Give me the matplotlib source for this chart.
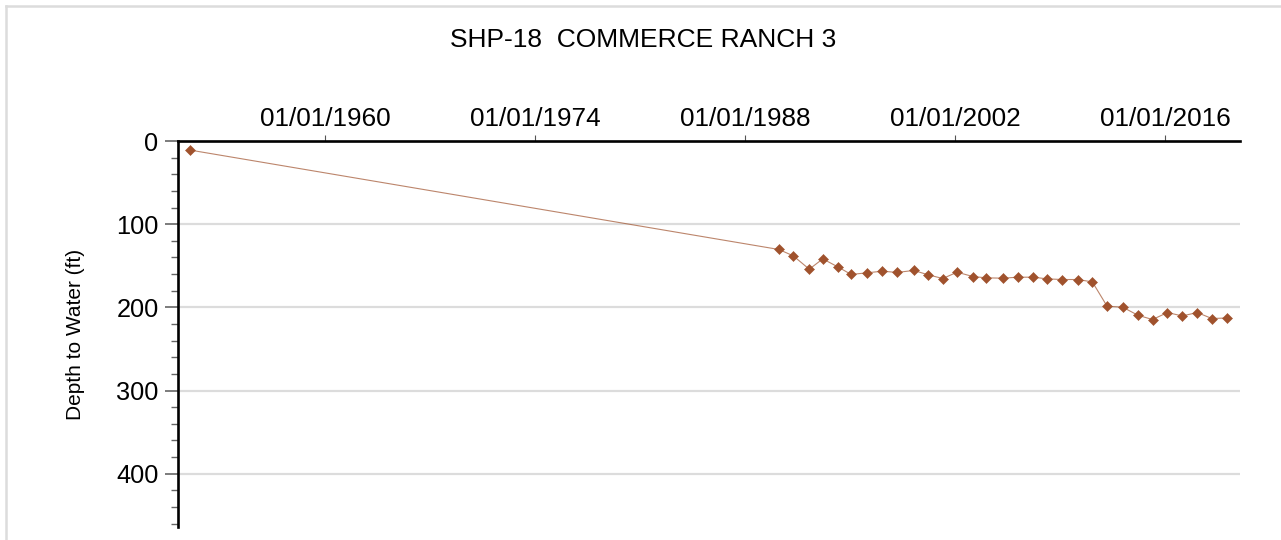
import matplotlib
matplotlib.use("Agg")
import matplotlib.pyplot as plt
import matplotlib.dates as mdates
from matplotlib.lines import Line2D
from matplotlib.ticker import MultipleLocator
import pandas as pd

# measurement dates and depth to water (ft)
dates = [
    "1951-01-01",
    "1990-03-28", "1991-03-15", "1992-04-05", "1993-03-01", "1994-03-01",
    "1995-01-20", "1996-02-03", "1997-02-17", "1998-02-14", "1999-03-25",
    "2000-03-15", "2001-03-01", "2002-02-14", "2003-03-03", "2004-01-26",
    "2005-03-10", "2006-03-03", "2007-03-17", "2008-02-06", "2009-02-14",
    "2010-03-03", "2011-02-20", "2012-02-14", "2013-03-03", "2014-03-03",
    "2015-02-24", "2016-02-24", "2017-02-17", "2018-02-17", "2019-02-10",
    "2020-02-24",
]
depth = [
    11,
    130.4, 138.1, 154.1, 141.7, 151.3,
    160.4, 158.5, 156.5, 158.0, 155.6,
    160.9, 165.3, 157.7, 162.9, 164.5,
    164.9, 163.7, 163.7, 165.7, 166.5,
    166.5, 169.4, 198.6, 199.8, 209.4,
    214.6, 206.2, 210.3, 206.2, 213.4,
    212.7,
]
tick_years = [1960, 1974, 1988, 2002, 2016]

title = "SHP-18  COMMERCE RANCH 3"
ylabel = "Depth to Water (ft)"
color = "#A0522D"

plt.rcParams["font.family"] = ["Liberation Sans", "DejaVu Sans"]

x = pd.to_datetime(dates)

fig = plt.figure(figsize=(12.81, 5.4), dpi=100)
ax = fig.add_axes([178 / 1281, 1 - 527 / 540, (1240 - 178) / 1281, (527 - 141) / 540])

ax.plot(x, depth, color=color, lw=0.8, alpha=0.7, zorder=3)
ax.plot(x, depth, ls="none", marker="D", ms=4.9, mfc=color, mec=color, mew=0.4, zorder=4)

ax.set_xlim(pd.Timestamp("1950-03-03"), pd.Timestamp("2020-12-25"))
ax.set_ylim(464, 0)

ax.xaxis.tick_top()
ax.set_xticks([pd.Timestamp(f"{y}-01-01") for y in tick_years])
ax.xaxis.set_major_formatter(mdates.DateFormatter("%m/%d/%Y"))
ax.tick_params(axis="x", length=4, width=0.8, color="#555555", pad=3, labelsize=18.8)

ax.yaxis.set_major_locator(MultipleLocator(100))
ax.yaxis.set_minor_locator(MultipleLocator(20))
ax.tick_params(axis="y", which="major", length=9.5, width=1.2, color="#666666", pad=4.5, labelsize=18.3)
ax.tick_params(axis="y", which="minor", length=5, width=1.0, color="#666666")

ax.grid(axis="y", which="major", color="#dcdcdc", lw=1.6)
for g in ax.get_ygridlines()[:1]:
    g.set_visible(False)

for side in ["right", "bottom"]:
    ax.spines[side].set_visible(False)
for side in ["left", "top"]:
    ax.spines[side].set_linewidth(1.9)
    ax.spines[side].set_color("black")
ax.set_axisbelow(True)

ax.set_ylabel(ylabel, fontsize=15)
ax.yaxis.set_label_coords(-0.088, 0.5)

fig.text(643 / 1281, 1 - 40 / 540, title, ha="center", va="center", fontsize=19)

# light grey frame around the chart area
fig.add_artist(Line2D([6 / 1281, 6 / 1281], [0, 1 - 6 / 540], color="#dcdcdc", lw=1.8))
fig.add_artist(Line2D([6 / 1281, 1], [1 - 6 / 540, 1 - 6 / 540], color="#dcdcdc", lw=1.8))

fig.savefig("out.png", dpi=100)
